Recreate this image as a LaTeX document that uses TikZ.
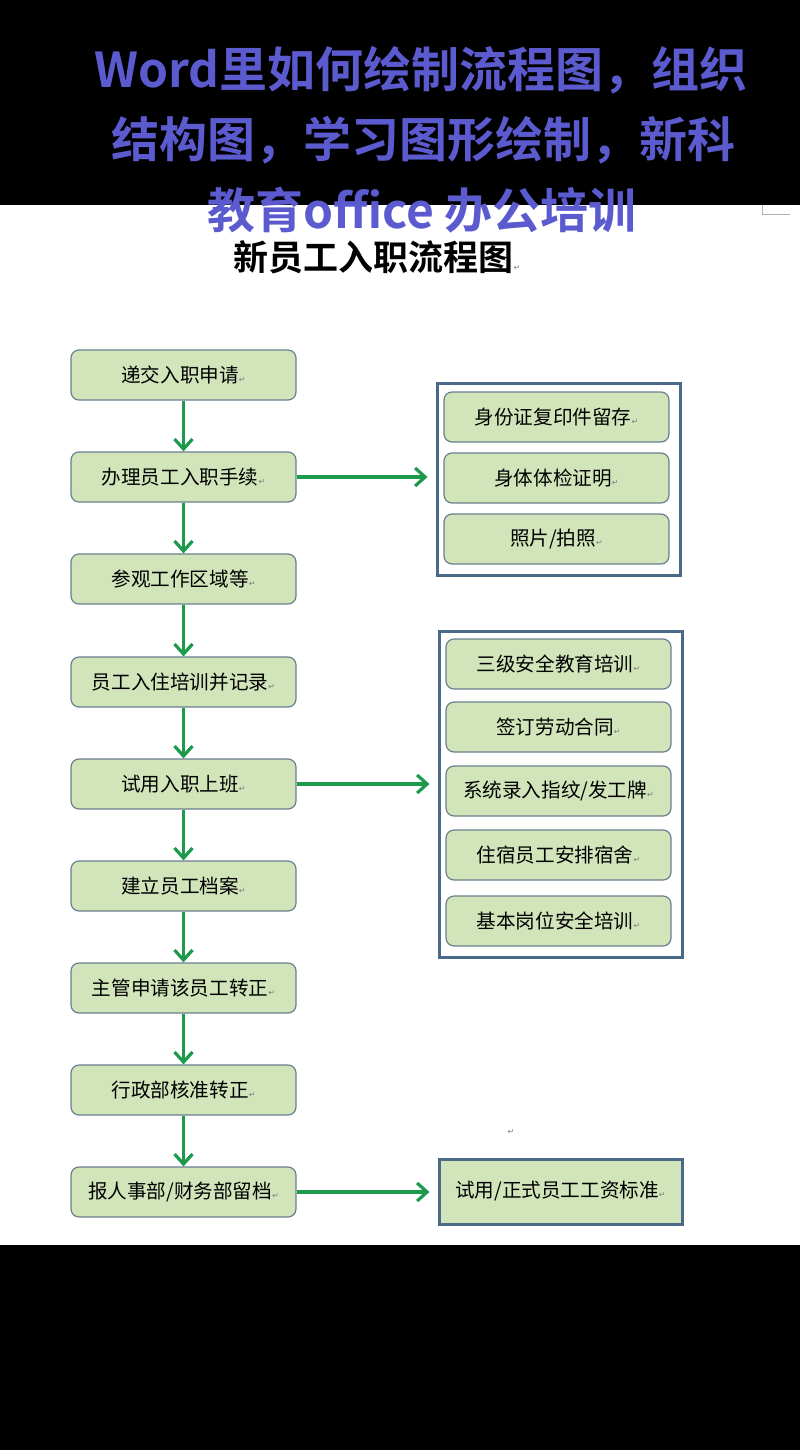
\documentclass[tikz,border=0pt]{standalone}
\usepackage{fontspec}
\setmainfont{Liberation Serif}
\newfontfamily\cjk{Noto Sans CJK SC}
\newfontfamily\cjkb{Noto Sans CJK SC Bold}
\newfontfamily\djv{DejaVu Sans}
\usetikzlibrary{arrows.meta}
\definecolor{ttl}{HTML}{5B5BCF}
\definecolor{gfill}{HTML}{D2E5BA}
\definecolor{gline}{HTML}{6A7F8E}
\definecolor{frame}{HTML}{4B6A8A}
\definecolor{arr}{HTML}{1E9A4C}
\newcommand{\pmk}{{\djv\fontsize{4}{4}\selectfont\color{gray}↵}}
\begin{document}
\begin{tikzpicture}[x=0.5pt,y=-0.5pt,
  box/.style={draw=gline,line width=0.6pt,fill=gfill,rounded corners=4pt,minimum width=112.5pt,minimum height=25pt,inner sep=0pt,font=\cjk\fontsize{9.8}{9.8}\selectfont},
  fr/.style={draw=frame,line width=1.5pt},
  ar/.style={draw=arr,line width=1.6pt,-{Straight Barb[length=5pt,width=9pt,line width=1.6pt]}},
  ttlf/.style={text=ttl,font=\cjkb\fontsize{24}{24}\selectfont,inner sep=0pt}]
\useasboundingbox (0,0) rectangle (800,1450);
\fill[black] (0,0) rectangle (800,205);
\fill[black] (0,1245) rectangle (800,1450);
\draw[gray!60,line width=0.4pt] (762,205) -- (762,214) -- (790,214);
\node[ttlf] (t1) at (421,70) {Word里如何绘制流程图，组织};
\node[ttlf] (t2) at (423,140) {结构图，学习图形绘制，新科};
\node[ttlf] (t3) at (422,210) {教育office 办公培训};
\node[font=\cjkb\fontsize{17.5}{17.5}\selectfont,inner sep=0pt] (sub) at (377,257) {新员工入职流程图\pmk};
% left column
\foreach \n/\y/\t in {a1/375/{递交入职申请},a2/477/{办理员工入职手续},a3/579/{参观工作区域等},a4/682/{员工入住培训并记录},a5/784/{试用入职上班},a6/886/{建立员工档案},a7/988/{主管申请该员工转正},a8/1090/{行政部核准转正},a9/1192/{报人事部/财务部留档}}
  \node[box] (\n) at (183.5,\y) {\t\pmk};
% group 1
\node[fr,minimum width=121.5pt,minimum height=96pt,inner sep=0pt] (g1) at (558.5,479) {};
\foreach \n/\y/\t in {b1/417/{身份证复印件留存},b2/478/{身体体检证明},b3/539/{照片/拍照}}
  \node[box] (\n) at (556.5,\y) {\t\pmk};
% group 2
\node[fr,minimum width=121.5pt,minimum height=163pt,inner sep=0pt] (g2) at (560.5,794) {};
\foreach \n/\y/\t in {c1/664/{三级安全教育培训},c2/727/{签订劳动合同},c3/791/{系统录入指纹/发工牌},c4/855/{住宿员工安排宿舍},c5/921/{基本岗位安全培训}}
  \node[box] (\n) at (558.5,\y) {\t\pmk};
% group 3
\node[fr,fill=gfill,minimum width=121.5pt,minimum height=32.5pt,inner sep=0pt,font=\cjk\fontsize{9.8}{9.8}\selectfont] (g3) at (560.5,1191.5) {试用/正式员工工资标准\pmk};
\node[inner sep=0pt] (pm) at (511,1132) {\pmk};
% arrows
\foreach \p/\q in {a1/a2,a2/a3,a3/a4,a4/a5,a5/a6,a6/a7,a7/a8,a8/a9}
  \draw[ar] (\p.south) -- (\q.north);
\draw[ar] (a2.east) -- ([xshift=-4pt]a2.east -| g1.west);
\draw[ar] (a5.east) -- ([xshift=-4pt]a5.east -| g2.west);
\draw[ar] (a9.east) -- ([xshift=-4pt]a9.east -| g3.west);
\end{tikzpicture}
\end{document}
